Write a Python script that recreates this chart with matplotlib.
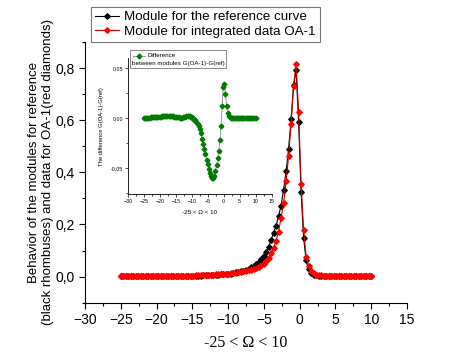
import numpy as np
import matplotlib
matplotlib.use("Agg")
import matplotlib.pyplot as plt
from matplotlib.ticker import MultipleLocator, FuncFormatter
from matplotlib.lines import Line2D
from matplotlib.patches import Rectangle

plt.rcParams['font.family'] = ['Liberation Sans', 'DejaVu Sans']

# ---- data -------------------------------------------------------------
omega = np.linspace(-25, 10, 101)

g_ref = [0.001, 0.001, 0.001, 0.001, 0.001, 0.001, 0.001, 0.001, 0.001, 0.001,
         0.002, 0.002, 0.002, 0.002, 0.002, 0.002, 0.002, 0.002, 0.002, 0.002,
         0.002, 0.002, 0.002, 0.002, 0.002, 0.003, 0.003, 0.003, 0.003, 0.003,
         0.004, 0.004, 0.004, 0.005, 0.005, 0.006, 0.006, 0.007, 0.007, 0.008,
         0.009, 0.009, 0.010, 0.011, 0.012, 0.014, 0.016, 0.018, 0.020, 0.023,
         0.027, 0.031, 0.036, 0.042, 0.049, 0.057, 0.067, 0.080, 0.095, 0.115,
         0.140, 0.168, 0.195, 0.232, 0.272, 0.333, 0.404, 0.490, 0.603, 0.735,
         0.791, 0.594, 0.323, 0.150, 0.062, 0.028, 0.014, 0.008, 0.005, 0.004,
         0.003, 0.003, 0.002, 0.002, 0.002, 0.002, 0.002, 0.002, 0.002, 0.001,
         0.001, 0.001, 0.001, 0.001, 0.001, 0.001, 0.001, 0.001, 0.001, 0.001,
         0.001]

g_oa1 = [0.001, 0.001, 0.001, 0.001, 0.001, 0.001, 0.002, 0.002, 0.002, 0.002,
         0.002, 0.002, 0.002, 0.002, 0.002, 0.002, 0.003, 0.003, 0.003, 0.003,
         0.003, 0.003, 0.004, 0.004, 0.004, 0.004, 0.004, 0.004, 0.004, 0.004,
         0.005, 0.005, 0.005, 0.005, 0.006, 0.006, 0.007, 0.008, 0.009, 0.010,
         0.010, 0.011, 0.012, 0.012, 0.013, 0.014, 0.015, 0.017, 0.018, 0.020,
         0.022, 0.025, 0.027, 0.030, 0.033, 0.037, 0.043, 0.050, 0.060, 0.072,
         0.090, 0.110, 0.138, 0.173, 0.225, 0.282, 0.365, 0.462, 0.587, 0.733,
         0.814, 0.630, 0.355, 0.180, 0.077, 0.040, 0.022, 0.013, 0.008, 0.006,
         0.005, 0.004, 0.003, 0.003, 0.003, 0.002, 0.002, 0.002, 0.002, 0.002,
         0.002, 0.002, 0.001, 0.001, 0.001, 0.001, 0.001, 0.001, 0.001, 0.001,
         0.001]

g_diff = [0.0005, 0.0005, 0.0005, 0.0005, 0.0006, 0.0006, 0.0007, 0.0008, 0.0009, 0.0010,
          0.0011, 0.0012, 0.0013, 0.0014, 0.0015, 0.0016, 0.0017, 0.0018, 0.0019, 0.0020,
          0.0021, 0.0022, 0.0022, 0.0022, 0.0021, 0.0020, 0.0018, 0.0016, 0.0014, 0.0012,
          0.0010, 0.0008, 0.0006, 0.0005, 0.0006, 0.0008, 0.0011, 0.0014, 0.0018, 0.0021,
          0.0022, 0.0021, 0.0016, 0.0008, -0.0004, -0.001, -0.002, -0.004, -0.006, -0.008,
          -0.011, -0.015, -0.021, -0.026, -0.031, -0.036, -0.042, -0.046, -0.051, -0.055,
          -0.058, -0.0595, -0.060, -0.058, -0.053, -0.047, -0.040, -0.033, -0.022, -0.008,
          0.012, 0.031, 0.034, 0.024, 0.012, 0.005, 0.002, 0.001, 0.0005, 0.0003,
          0.0003, 0.0003, 0.0003, 0.0003, 0.0003, 0.0003, 0.0003, 0.0003, 0.0003, 0.0003,
          0.0003, 0.0003, 0.0003, 0.0003, 0.0003, 0.0003, 0.0003, 0.0003, 0.0003, 0.0003,
          0.0003]

main_xticks = [-30, -25, -20, -15, -10, -5, 0, 5, 10, 15]
main_yticks = [0.0, 0.2, 0.4, 0.6, 0.8]
inset_yticks = [-0.05, 0.0, 0.05]

# ---- figure -----------------------------------------------------------
W, H = 474, 363
fig = plt.figure(figsize=(W / 100, H / 100), dpi=100)

def fx(px):
    return px / W

def fy(py):
    return 1 - py / H

ax = fig.add_axes([fx(85), fy(302.7), fx(407) - fx(85), fy(42) - fy(302.7)])
ax.plot(omega, g_ref, color='black', lw=0.8, marker='D', ms=2.8, mec='black',
        mfc='black', label='Module for the reference curve', zorder=3)
ax.plot(omega, g_oa1, color='#c00000', lw=0.8, marker='D', ms=2.8, mec='red',
        mfc='red', label='Module for integrated data OA-1', zorder=4)
ax.set_xlim(-30, 15)
ax.set_ylim(-0.1, 0.9)
ax.set_xticks(main_xticks)
ax.set_yticks(main_yticks)
ax.xaxis.set_minor_locator(MultipleLocator(2.5))
ax.yaxis.set_minor_locator(MultipleLocator(0.1))
ax.yaxis.set_major_formatter(FuncFormatter(lambda v, p: f"{v:.1f}".replace('.', ',')))
for s in ('top', 'right'):
    ax.spines[s].set_visible(False)
ax.tick_params(which='major', direction='out', length=4, width=0.8, labelsize=10)
ax.tick_params(which='minor', direction='out', length=2.5, width=0.8)
ax.set_xlabel('-25 < \u03a9 < 10', family=['Liberation Serif', 'DejaVu Serif'],
              fontsize=11.5, labelpad=6)

fig.text(fx(41), fy(172),
         'Behavior of the modules for reference\n(black rhombuses) and data for OA-1(red diamonds)',
         rotation=90, ha='center', va='center', multialignment='center',
         fontsize=9.5, linespacing=1.25)

leg = fig.legend(loc='upper left', bbox_to_anchor=(fx(91), fy(7)), fontsize=9.6,
                 frameon=True, fancybox=False, borderaxespad=0, handlelength=1.8,
                 handletextpad=0.4, borderpad=0.3, labelspacing=0.15)
leg.get_frame().set_edgecolor('#555555')
leg.get_frame().set_linewidth(0.8)

# ---- inset ------------------------------------------------------------
axi = fig.add_axes([fx(128), fy(194.3), fx(271.6) - fx(128), fy(58) - fy(194.3)])
axi.plot(omega, g_diff, color='#888888', lw=0.6, marker='D', ms=2.4,
         mec='#007a00', mfc='#007a00', zorder=3)
axi.set_xlim(-30, 15)
axi.set_ylim(-0.076, 0.06)
axi.set_xticks(main_xticks)
axi.set_yticks(inset_yticks)
axi.xaxis.set_minor_locator(MultipleLocator(2.5))
axi.yaxis.set_minor_locator(MultipleLocator(0.025))
axi.yaxis.set_major_formatter(FuncFormatter(lambda v, p: f"{v:.2f}".replace('.', ',')))
for s in ('top', 'right'):
    axi.spines[s].set_visible(False)
for s in ('left', 'bottom'):
    axi.spines[s].set_linewidth(0.6)
axi.tick_params(which='major', direction='out', length=2, width=0.5, labelsize=3.8, pad=1.5)
axi.tick_params(which='minor', direction='out', length=1.2, width=0.5)
axi.set_xlabel('-25 < \u03a9 < 10', fontsize=4.5, labelpad=4)
axi.set_ylabel('The difference G(OA-1)-G(ref)', fontsize=4.2, labelpad=5)

# inset legend box
fig.patches.append(Rectangle((fx(130), fy(68)), fx(226) - fx(130), fy(50) - fy(68),
                             transform=fig.transFigure, fill=True, facecolor='white',
                             edgecolor='#777777', lw=0.6, zorder=5))
fig.lines.append(Line2D([fx(133), fx(145)], [fy(55.5), fy(55.5)], transform=fig.transFigure,
                        color='#888888', lw=0.6, zorder=6))
fig.lines.append(Line2D([fx(139)], [fy(55.5)], transform=fig.transFigure, marker='D',
                        ms=2.4, color='#007a00', lw=0, zorder=7))
fig.text(fx(147), fy(55.5), 'Difference', fontsize=4.5, va='center', ha='left', zorder=8)
fig.text(fx(131.5), fy(63.5), 'between modules G(OA-1)-G(ref)', fontsize=4.5,
         va='center', ha='left', zorder=8)

fig.savefig('out.png', dpi=100)
